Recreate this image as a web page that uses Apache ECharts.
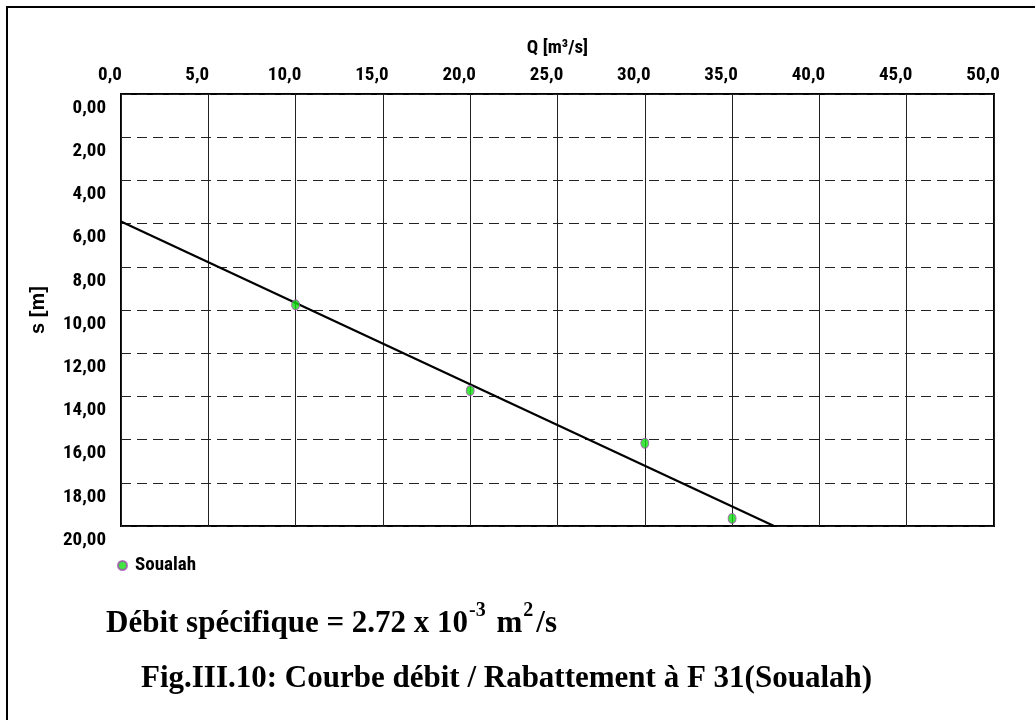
<!DOCTYPE html>
<html><head><meta charset="utf-8">
<script src="https://cdn.jsdelivr.net/npm/echarts@6/dist/echarts.min.js"></script>
<style>html,body{margin:0;padding:0;background:#fff}#c{width:1035px;height:720px}</style>
</head><body><div id="c"></div>
<script>
// Data
const debitQ = [10.0, 20.0, 30.0, 35.0];           // Q [m3/s]
const rabattement = [9.76, 13.73, 16.17, 19.65];   // s [m]
const fitQ = [0.0, 37.4];
const fitS = [5.9, 20.0];
const seriesName = 'Soualah';
const xMin = 0, xMax = 50, xStep = 5;
const yMin = 0, yMax = 20, yStep = 2;

const F = '"Roboto Condensed","DejaVu Sans Condensed",sans-serif';
const SERIF = '"Liberation Serif","DejaVu Serif",serif';
const chart = echarts.init(document.getElementById('c'));
chart.setOption({
  backgroundColor: '#fff',
  animation: false,
  grid: {left: 121, top: 94, right: 41, bottom: 194, show: true, borderColor: '#000', borderWidth: 2, backgroundColor: 'transparent'},
  xAxis: {
    type: 'value', position: 'top', min: xMin, max: xMax, interval: xStep,
    name: 'Q [m³/s]', nameLocation: 'middle', nameGap: 36,
    nameTextStyle: {fontFamily: F, fontWeight: 'bold', fontSize: 19, color: '#000'},
    axisLine: {show: false}, axisTick: {show: false},
    axisLabel: {fontFamily: F, fontWeight: 'bold', fontSize: 19, color: '#000', margin: 9,
      padding: [0, 22, 0, 0], formatter: v => v.toFixed(1).replace('.', ',')},
    splitLine: {show: true, lineStyle: {color: '#222', width: 1}}
  },
  yAxis: {
    type: 'value', inverse: true, min: yMin, max: yMax, interval: yStep,
    name: 's [m]', nameLocation: 'middle', nameGap: 73,
    nameTextStyle: {fontFamily: '"Liberation Sans",sans-serif', fontWeight: 'bold', fontSize: 20, color: '#000'},
    axisLine: {show: false}, axisTick: {show: false},
    axisLabel: {fontFamily: F, fontWeight: 'bold', fontSize: 19, color: '#000', margin: 15,
      verticalAlign: 'top', lineHeight: 28, formatter: v => v.toFixed(2).replace('.', ',')},
    splitLine: {show: true, lineStyle: {color: '#222', width: 1, type: [10, 6]}}
  },
  legend: {
    left: 112, top: 551, data: [seriesName], icon: 'circle', itemWidth: 9, itemHeight: 10, itemGap: 5,
    textStyle: {fontFamily: F, fontWeight: 'bold', fontSize: 19, color: '#000', padding: [0, 0, 0, 3]}
  },
  series: [
    {
      type: 'line', name: 'fit', data: fitQ.map((q, i) => [q, fitS[i]]),
      symbol: 'none', lineStyle: {color: '#000', width: 2.2}, silent: true, z: 2
    },
    {
      type: 'scatter', name: seriesName, data: debitQ.map((q, i) => [q, rabattement[i]]),
      symbol: 'circle', symbolSize: [8, 10],
      itemStyle: {color: '#11dd11', borderColor: '#a050b0', borderWidth: 1}, z: 3
    }
  ],
  graphic: [
    {type: 'rect', shape: {x: 7, y: 7, width: 1040, height: 730}, style: {fill: 'none', stroke: '#000', lineWidth: 2}},
    {type: 'text', left: 106, top: 601, style: {
      text: '{n|Débit spécifique = 2.72 x 10}{s|-3}{n| m}{s|2}{n|/s}',
      rich: {
        n: {fontFamily: SERIF, fontWeight: 'bold', fontSize: 31, color: '#000', lineHeight: 38, verticalAlign: 'bottom'},
        s: {fontFamily: SERIF, fontWeight: 'bold', fontSize: 20, color: '#000', lineHeight: 38, verticalAlign: 'top', padding: [0, 3, 0, 1]}
      }
    }},
    {type: 'text', left: 141, top: 663, style: {
      text: 'Fig.III.10: Courbe débit / Rabattement à F 31(Soualah)',
      fontFamily: SERIF, fontWeight: 'bold', fontSize: 31, fill: '#000'
    }}
  ]
});
</script></body></html>
